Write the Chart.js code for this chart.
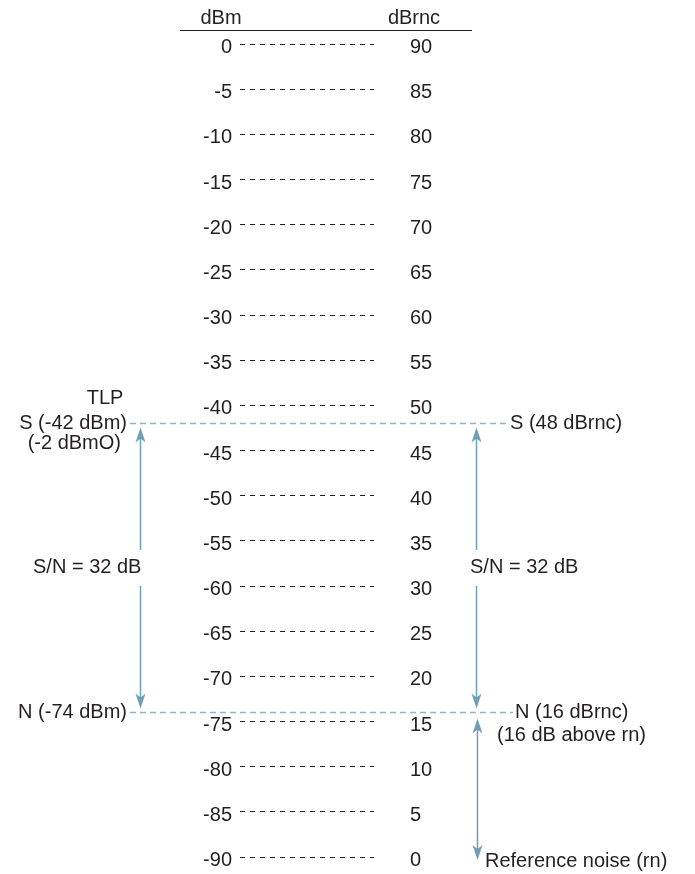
<!DOCTYPE html>
<html>
<head>
<meta charset="utf-8">
<title>dBm / dBrnc levels</title>
<script src="https://cdn.jsdelivr.net/npm/chart.js@4.4.1/dist/chart.umd.min.js"></script>
<style>
  html, body { margin: 0; padding: 0; background: #fff; }
  canvas { display: block; }
</style>
</head>
<body>
<canvas id="levels" width="695" height="874"></canvas>
<script>
// scale data
var dbmRange = [-90, 0];
var dbrncRange = [0, 90];
var tickStep = 5;

// marked levels
var levelNames = ['S', 'N', 'rn'];
var levelDbm = [-42, -74, -90];
var levelDbrnc = [48, 16, 0];
var snRatio = 32;     // dB
var tlpDbm0 = -2;     // dBm0 at the TLP

var FONT = '20px "Liberation Sans", Arial, Helvetica, sans-serif';
var INK = '#231f20';
var BLUE = '#8db6c8';
var ARROW = '#6f9fb7';

function arrowHead(ctx, x, tipY, dir) {
    // dir = 1 points down, -1 points up
    var len = 15, half = 5, notch = 4;
    ctx.beginPath();
    ctx.moveTo(x, tipY);
    ctx.lineTo(x - half, tipY - dir * len);
    ctx.lineTo(x, tipY - dir * (len - notch));
    ctx.lineTo(x + half, tipY - dir * len);
    ctx.closePath();
    ctx.fill();
}

function arrow(ctx, x, y1, y2, headTop, headBottom) {
    ctx.strokeStyle = ARROW;
    ctx.fillStyle = ARROW;
    ctx.lineWidth = 1.5;
    ctx.setLineDash([]);
    ctx.beginPath();
    ctx.moveTo(x, y1 + (headTop ? 6 : 0));
    ctx.lineTo(x, y2 - (headBottom ? 6 : 0));
    ctx.stroke();
    if (headTop) arrowHead(ctx, x, y1, -1);
    if (headBottom) arrowHead(ctx, x, y2, 1);
}

function label(ctx, text, x, y, align, clear) {
    ctx.font = FONT;
    ctx.textAlign = align;
    ctx.textBaseline = 'middle';
    if (clear) {
        var w = ctx.measureText(text).width;
        var left = align === 'right' ? x - w : (align === 'center' ? x - w / 2 : x);
        ctx.fillStyle = '#fff';
        ctx.fillRect(left - 4, y - 18, w + 8, 36);
    }
    ctx.fillStyle = INK;
    ctx.fillText(text, x, y);
}

// the axes only hold the labels, so drop their own top/bottom padding
function fitAxis(width) {
    return function (scale) {
        scale.width = width;
        scale.paddingTop = 0;
        scale.paddingBottom = 0;
    };
}

var annotations = {
    id: 'annotations',
    afterDraw: function (chart) {
        var ctx = chart.ctx;
        var y = chart.scales.y, y2 = chart.scales.y2;
        var yS = y.getPixelForValue(levelDbm[0]);
        var yN = y.getPixelForValue(levelDbm[1]);
        var yRn = y2.getPixelForValue(levelDbrnc[2]);
        ctx.save();

        // column headers
        label(ctx, 'dBm', 221, 18, 'center');
        label(ctx, 'dBrnc', 414, 18, 'center');
        ctx.strokeStyle = INK;
        ctx.lineWidth = 1.2;
        ctx.beginPath();
        ctx.moveTo(180, 30.5);
        ctx.lineTo(472, 30.5);
        ctx.stroke();

        // S and N level lines
        ctx.strokeStyle = BLUE;
        ctx.lineWidth = 1.5;
        ctx.setLineDash([6, 4]);
        ctx.beginPath();
        ctx.moveTo(130, yS); ctx.lineTo(508, yS);
        ctx.moveTo(130, yN); ctx.lineTo(513, yN);
        ctx.stroke();
        ctx.setLineDash([]);

        // arrows
        arrow(ctx, 140.5, yS + 4, yN - 4, true, true);
        arrow(ctx, 476.5, yS + 4, yN - 4, true, true);
        arrow(ctx, 477.5, yN + 6, yRn + 3, true, true);

        // left texts
        label(ctx, 'TLP', 105, yS - 25, 'center');
        label(ctx, levelNames[0] + ' (' + levelDbm[0] + ' dBm)', 127, yS, 'right');
        label(ctx, '(' + tlpDbm0 + ' dBmO)', 121, yS + 20, 'right');
        label(ctx, levelNames[1] + ' (' + levelDbm[1] + ' dBm)', 127, yN, 'right');
        label(ctx, 'S/N = ' + snRatio + ' dB', 33, (yS + yN) / 2, 'left', true);

        // right texts
        label(ctx, levelNames[0] + ' (' + levelDbrnc[0] + ' dBrnc)', 510, yS, 'left');
        label(ctx, levelNames[1] + ' (' + levelDbrnc[1] + ' dBrnc)', 515, yN, 'left');
        label(ctx, '(' + (levelDbrnc[1] - levelDbrnc[2]) + ' dB above rn)', 497, yN + 23, 'left');
        label(ctx, 'S/N = ' + snRatio + ' dB', 470, (yS + yN) / 2, 'left', true);
        label(ctx, 'Reference noise (' + levelNames[2] + ')', 485, yRn + 4, 'left');

        ctx.restore();
    }
};

new Chart(document.getElementById('levels'), {
    type: 'scatter',
    data: { datasets: [] },
    options: {
        responsive: false,
        animation: false,
        devicePixelRatio: 1,
        layout: { padding: { top: 44, bottom: 17, left: 0, right: 0 } },
        plugins: {
            legend: { display: false },
            tooltip: { enabled: false }
        },
        scales: {
            x: { display: false, min: 0, max: 1 },
            y: {
                position: 'left',
                min: dbmRange[0],
                max: dbmRange[1],
                afterFit: fitAxis(240),
                ticks: {
                    stepSize: tickStep,
                    padding: 8,
                    labelOffset: 3.5,
                    color: INK,
                    font: { family: '"Liberation Sans", Arial, sans-serif', size: 20 },
                    callback: function (v) { return String(v); }
                },
                grid: { color: INK, lineWidth: 1, drawTicks: false },
                border: { display: false, dash: [5, 5] }
            },
            y2: {
                position: 'right',
                min: dbrncRange[0],
                max: dbrncRange[1],
                afterFit: fitAxis(695 - 374),
                ticks: {
                    stepSize: tickStep,
                    padding: 36,
                    labelOffset: 3.5,
                    color: INK,
                    font: { family: '"Liberation Sans", Arial, sans-serif', size: 20 },
                    callback: function (v) { return String(v); }
                },
                grid: { display: false, drawTicks: false },
                border: { display: false }
            }
        }
    },
    plugins: [annotations]
});
</script>
</body>
</html>
